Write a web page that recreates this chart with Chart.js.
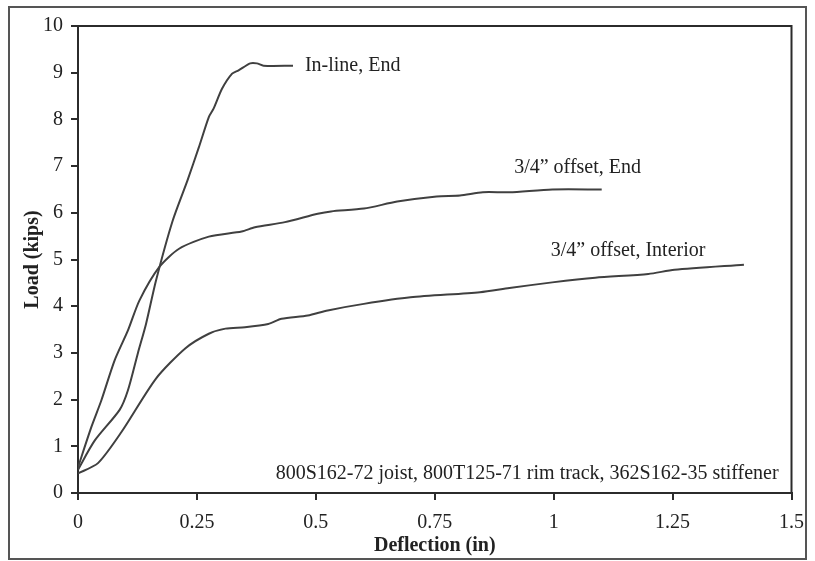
<!DOCTYPE html>
<html>
<head>
<meta charset="utf-8">
<script src="https://cdn.jsdelivr.net/npm/chart.js@4"></script>
<style>
  html, body { margin: 0; padding: 0; background: #fff; }
  #wrap { width: 815px; height: 561px; position: relative; }
</style>
</head>
<body>
<div id="wrap"><canvas id="c" width="815" height="561"></canvas></div>
<script>
(function(){

    "use strict"

    // deflection (in) vs load (kips)
    const inlineEndX = [0, 0.035, 0.0875, 0.105, 0.126, 0.143, 0.164, 0.199, 0.230, 0.254, 0.275, 0.285, 0.303, 0.324, 0.3375, 0.362, 0.376, 0.39, 0.452];
    const inlineEndY = [0.5, 1.12, 1.78, 2.2, 3.0, 3.62, 4.55, 5.83, 6.69, 7.40, 8.05, 8.23, 8.66, 8.98, 9.05, 9.20, 9.20, 9.15, 9.15];

    const offsetEndX = [0, 0.028, 0.049, 0.077, 0.105, 0.129, 0.171, 0.2125, 0.275, 0.344, 0.372, 0.435, 0.504, 0.532, 0.601, 0.671, 0.754, 0.803, 0.851, 0.907, 0.997, 1.101];
    const offsetEndY = [0.55, 1.41, 1.98, 2.84, 3.48, 4.12, 4.84, 5.23, 5.49, 5.60, 5.69, 5.80, 5.98, 6.03, 6.09, 6.24, 6.35, 6.37, 6.44, 6.44, 6.50, 6.50];

    const offsetIntX = [0, 0.042, 0.091, 0.164, 0.226, 0.275, 0.31, 0.351, 0.40, 0.428, 0.483, 0.525, 0.601, 0.699, 0.845, 0.907, 0.997, 1.0875, 1.199, 1.254, 1.40];
    const offsetIntY = [0.42, 0.64, 1.30, 2.45, 3.10, 3.41, 3.52, 3.55, 3.62, 3.73, 3.80, 3.91, 4.05, 4.19, 4.30, 4.39, 4.51, 4.61, 4.69, 4.78, 4.89];

    const seriesNames = ["In-line, End", "3/4\u201d offset, End", "3/4\u201d offset, Interior"];
    const xTickLabels = ["0", "0.25", "0.5", "0.75", "1", "1.25", "1.5"];
    const yTickLabels = ["0", "1", "2", "3", "4", "5", "6", "7", "8", "9", "10"];
    const noteText = "800S162-72 joist, 800T125-71 rim track, 362S162-35 stiffener";

    const serif = "'Liberation Serif', 'Times New Roman', serif";
    const ink = "#2b2b2b";
    const lineInk = "#404040";

    function pts(xs, ys) {
        return xs.map((x, i) => ({x: x, y: ys[i]}));
    }

    function line(label, xs, ys) {
        return {
            label: label,
            data: pts(xs, ys),
            showLine: true,
            borderColor: lineInk,
            borderWidth: 2,
            pointRadius: 0,
            tension: 0.25,
            fill: false
        };
    }

    // frame, outer box and the text written on the plot
    const decorate = {
        id: "decorate",
        afterDraw(chart) {
            const ctx = chart.ctx;
            const a = chart.chartArea;
            const xs = chart.scales.x, ys = chart.scales.y;
            ctx.save();
            ctx.strokeStyle = ink;
            ctx.lineWidth = 2;
            ctx.beginPath();
            ctx.moveTo(a.left, a.top);
            ctx.lineTo(a.right, a.top);
            ctx.lineTo(a.right, a.bottom);
            ctx.stroke();
            ctx.strokeStyle = "#555";
            ctx.strokeRect(9, 7, 797, 552);

            ctx.fillStyle = "#222";
            ctx.font = "20px " + serif;
            ctx.textBaseline = "middle";
            ctx.textAlign = "left";
            ctx.fillText(seriesNames[0], xs.getPixelForValue(0.477), ys.getPixelForValue(9.15));
            ctx.fillText(seriesNames[1], xs.getPixelForValue(0.917), ys.getPixelForValue(6.97));
            ctx.fillText(seriesNames[2], xs.getPixelForValue(0.994), ys.getPixelForValue(5.19));
            ctx.textAlign = "right";
            ctx.fillText(noteText, xs.getPixelForValue(1.473), ys.getPixelForValue(0.42));
            ctx.restore();
        }
    };

    new Chart(document.getElementById("c"), {
        type: "scatter",
        data: {
            datasets: [
                line(seriesNames[0], inlineEndX, inlineEndY),
                line(seriesNames[1], offsetEndX, offsetEndY),
                line(seriesNames[2], offsetIntX, offsetIntY)
            ]
        },
        options: {
            responsive: false,
            animation: false,
            layout: { padding: { left: 0, right: 17, top: 26, bottom: 0 } },
            plugins: { legend: { display: false }, tooltip: { enabled: false } },
            scales: {
                x: {
                    type: "linear",
                    min: 0, max: 1.5,
                    afterFit: s => { s.height = 68; },
                    ticks: {
                        stepSize: 0.25,
                        color: "#222",
                        padding: 11,
                        maxRotation: 0,
                        font: { family: serif, size: 20 },
                        callback: (v, i) => xTickLabels[i]
                    },
                    grid: { drawOnChartArea: false, drawTicks: true, tickLength: 7, color: ink, lineWidth: 2 },
                    border: { color: ink, width: 2 },
                    title: {
                        display: true,
                        text: "Deflection (in)",
                        color: "#222",
                        font: { family: serif, size: 20, weight: "bold" },
                        padding: { top: 0, bottom: 3 }
                    }
                },
                y: {
                    min: 0, max: 10,
                    afterFit: s => { s.width = 78; },
                    ticks: {
                        stepSize: 1,
                        color: "#222",
                        padding: 8,
                        font: { family: serif, size: 20 },
                        callback: (v, i) => yTickLabels[i]
                    },
                    grid: { drawOnChartArea: false, drawTicks: true, tickLength: 7, color: ink, lineWidth: 2 },
                    border: { color: ink, width: 2 },
                    title: {
                        display: true,
                        text: "Load (kips)",
                        color: "#222",
                        font: { family: serif, size: 20, weight: "bold" },
                        padding: { top: 21, bottom: 0 }
                    }
                }
            }
        },
        plugins: [decorate]
    });

}());
</script>
</body>
</html>
